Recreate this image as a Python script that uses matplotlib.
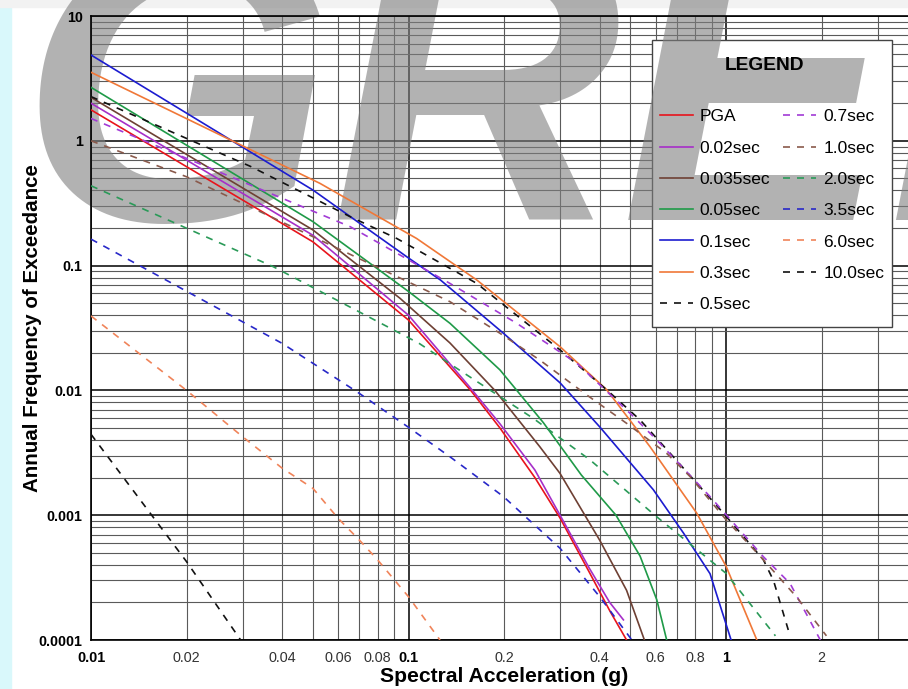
import numpy as np
import matplotlib.pyplot as plt
from matplotlib.patches import Rectangle

plt.rcParams['font.family'] = ['Liberation Sans', 'DejaVu Sans']

# --- hazard curve data ---
pga_x = [0.01, 0.05, 0.1, 0.157, 0.194, 0.25, 0.3, 0.373, 0.431, 0.486]
pga_y = [1.77, 0.155, 0.0366, 0.0100, 0.0050, 0.0020, 0.00095, 0.00034, 0.00017, 0.0001]

s002_x = [0.01, 0.05, 0.1, 0.155, 0.194, 0.25, 0.3, 0.37, 0.43, 0.475]
s002_y = [2.0, 0.175, 0.040, 0.0108, 0.0054, 0.0023, 0.0010, 0.00038, 0.00020, 0.000145]

s0035_x = [0.01, 0.05, 0.094, 0.135, 0.187, 0.259, 0.3, 0.4, 0.486, 0.553]
s0035_y = [2.23, 0.193, 0.0547, 0.024, 0.0100, 0.00354, 0.00216, 0.00063, 0.00025, 0.0001]

s005_x = [0.01, 0.05, 0.1, 0.135, 0.194, 0.266, 0.35, 0.45, 0.536, 0.605, 0.65]
s005_y = [2.68, 0.225, 0.062, 0.0345, 0.0146, 0.0055, 0.0021, 0.0010, 0.00047, 0.00021, 0.0001]

s01_x = [0.01, 0.05, 0.1, 0.126, 0.199, 0.3, 0.4, 0.59, 0.734, 0.89, 1.037]
s01_y = [4.87, 0.403, 0.115, 0.0767, 0.0287, 0.0115, 0.0051, 0.0016, 0.00072, 0.00034, 0.0001]

s03_x = [0.01, 0.0526, 0.106, 0.164, 0.3, 0.421, 0.576, 0.808, 1.0, 1.25]
s03_y = [3.54, 0.456, 0.165, 0.0767, 0.0224, 0.0101, 0.00354, 0.00104, 0.00039, 0.0001]

s05_x = [0.01, 0.0319, 0.0655, 0.0918, 0.164, 0.3, 0.421, 0.536, 0.667, 0.98, 1.31, 1.41, 1.59]
s05_y = [2.26, 0.621, 0.2465, 0.165, 0.072, 0.0211, 0.0101, 0.0058, 0.00313, 0.00104, 0.00044, 0.0003, 0.000108]

s07_x = [0.01, 0.0655, 0.135, 0.219, 0.339, 0.51, 0.605, 0.89, 1.31, 1.59, 1.98]
s07_y = [1.51, 0.205, 0.072, 0.0345, 0.0165, 0.0062, 0.0040, 0.00141, 0.000465, 0.000284, 0.0001]

s10_x = [0.01, 0.02, 0.135, 0.194, 0.259, 0.364, 0.486, 0.65, 0.77, 1.0, 1.31, 1.67, 2.07]
s10_y = [1.0, 0.515, 0.0514, 0.0287, 0.0175, 0.0092, 0.00545, 0.00313, 0.00204, 0.00092, 0.00044, 0.00022, 0.000108]

s20_x = [0.01, 0.0375, 0.108, 0.142, 0.247, 0.373, 0.605, 1.0, 1.43]
s20_y = [0.436, 0.098, 0.0238, 0.015, 0.00597, 0.00277, 0.00097, 0.000342, 0.000108]

s35_x = [0.01, 0.04, 0.0687, 0.1, 0.135, 0.199, 0.3, 0.4, 0.505]
s35_y = [0.163, 0.0238, 0.00977, 0.00506, 0.00294, 0.00141, 0.000543, 0.000222, 0.0001]

s60_x = [0.01, 0.02, 0.03, 0.04, 0.05, 0.06, 0.07, 0.08, 0.1, 0.1256]
s60_y = [0.0395, 0.0100, 0.00426, 0.00238, 0.00164, 0.000944, 0.000632, 0.000437, 0.000222, 0.0001]

s100_x = [0.01, 0.02, 0.0296]
s100_y = [0.00445, 0.000424, 0.0001]

labels = ['PGA', '0.02sec', '0.035sec', '0.05sec', '0.1sec', '0.3sec', '0.5sec',
          '0.7sec', '1.0sec', '2.0sec', '3.5sec', '6.0sec', '10.0sec']
xs = [pga_x, s002_x, s0035_x, s005_x, s01_x, s03_x, s05_x, s07_x, s10_x, s20_x, s35_x, s60_x, s100_x]
ys = [pga_y, s002_y, s0035_y, s005_y, s01_y, s03_y, s05_y, s07_y, s10_y, s20_y, s35_y, s60_y, s100_y]
colors = ['#e8141c', '#a62fc8', '#6e4034', '#1f9a48', '#1c1cd0', '#f07838', '#111111',
          '#a23bd6', '#8a5a4c', '#2a9a58', '#2828c8', '#f0845a', '#111111']
dashed = [False] * 6 + [True] * 7

x_major = [0.01, 0.1, 1]
x_major_labels = ['0.01', '0.1', '1']
x_minor_labels = {0.02: '0.02', 0.04: '0.04', 0.06: '0.06', 0.08: '0.08',
                  0.2: '0.2', 0.4: '0.4', 0.6: '0.6', 0.8: '0.8', 2: '2'}
y_major = [0.0001, 0.001, 0.01, 0.1, 1, 10]
y_major_labels = ['0.0001', '0.001', '0.01', '0.1', '1', '10']

# --- figure ---
W, H = 908, 689
fig = plt.figure(figsize=(W / 100, H / 100), dpi=100, facecolor='white')
fig.patches.append(Rectangle((0, 0), 11 / W, 1, transform=fig.transFigure,
                             color='#d9f8fb', zorder=-5))
fig.patches.append(Rectangle((0, 1 - 7 / H), 1, 7 / H, transform=fig.transFigure,
                             color='#f2f2f2', zorder=-5))

pos = [91 / W, 49 / H, 817 / W, 624 / H]
minor_x = [m * d for d in [0.01, 0.1, 1] for m in range(2, 10) if m * d < 3.74]
minor_y = [m * d for d in [0.0001, 0.001, 0.01, 0.1, 1] for m in range(2, 10)]

# bottom layer: white plot area and grid (watermark goes on top of this)
ax_bg = fig.add_axes(pos, zorder=0)
# top layer: curves, labels, legend text
ax = fig.add_axes(pos, zorder=3)
ax.set_facecolor('none')
for a in (ax_bg, ax):
    a.set_xscale('log')
    a.set_yscale('log')
    a.set_xlim(0.01, 3.74)
    a.set_ylim(0.0001, 10)
    a.set_xticks(x_major, x_major_labels)
    a.set_xticks(minor_x, [x_minor_labels.get(round(v, 4), '') for v in minor_x], minor=True)
    a.set_yticks(y_major, y_major_labels)
    a.set_yticks(minor_y, [''] * len(minor_y), minor=True)
    a.tick_params(which='both', length=0)

ax_bg.grid(which='major', color='black', lw=1.1)
ax_bg.grid(which='minor', color='#5a5a5a', lw=0.8)
ax_bg.tick_params(which='both', labelbottom=False, labelleft=False)
for s in ax_bg.spines.values():
    s.set_visible(False)

for x, y, c, d, lab in zip(xs, ys, colors, dashed, labels):
    ax.plot(x, y, color=c, lw=1.2, linestyle=(0, (4.2, 4.2)) if d else '-', label=lab, zorder=3)

ax.tick_params(axis='x', which='major', pad=8, labelsize=10.4)
ax.tick_params(axis='x', which='minor', pad=8, labelsize=10.4, labelcolor='#333333')
ax.tick_params(axis='y', which='major', pad=6, labelsize=10.3)
for t in ax.get_xticklabels() + ax.get_yticklabels():
    t.set_fontweight('bold')
for s in ['left', 'bottom', 'top']:
    ax.spines[s].set_linewidth(1.2)
ax.spines['right'].set_visible(False)

ax.set_xlabel('Spectral Acceleration (g)', fontsize=15.2, fontweight='bold')
ax.set_ylabel('Annual Frequency of Exceedance', fontsize=14.8, fontweight='bold')
ax.xaxis.set_label_coords(0.5055, -0.043)
ax.yaxis.set_label_coords(-0.06, 0.5)

# legend: blank title keeps room for the heading, which is drawn as its own text
leg_family = ['Liberation Sans Narrow', 'Liberation Sans']
leg = ax.legend(ncol=2, title=' \n ', loc='upper right',
                bbox_to_anchor=(892 / W, 1 - 40 / H), bbox_transform=fig.transFigure,
                borderaxespad=0, frameon=False,
                prop={'family': leg_family, 'size': 12.5},
                title_fontproperties={'family': leg_family, 'size': 16},
                handlelength=1.9, handletextpad=0.4, columnspacing=0.75,
                labelspacing=0.93, borderpad=0.45)
fig.text(765 / W, 1 - 66 / H, 'LEGEND', family=leg_family, fontsize=13.8, fontweight='bold',
         ha='center', va='center', zorder=6)

# white legend box sits under the watermark, its entries above it
fig.canvas.draw()
bb = leg.get_window_extent().transformed(fig.transFigure.inverted())
pad_bottom = 7 / H
fig.patches.append(Rectangle((bb.x0, bb.y0 - pad_bottom), bb.width, bb.height + pad_bottom,
                             transform=fig.transFigure, facecolor='white',
                             edgecolor='#444444', lw=1.0, zorder=1))

# big semi-transparent watermark between the grid and the curves
fig.text(19 / W, 1 - 220 / H, 'GREEN', fontsize=289, fontweight='bold', fontstyle='italic',
         color='#808080', alpha=0.6, ha='left', va='baseline', zorder=2)

fig.savefig('out.png', dpi=100)
